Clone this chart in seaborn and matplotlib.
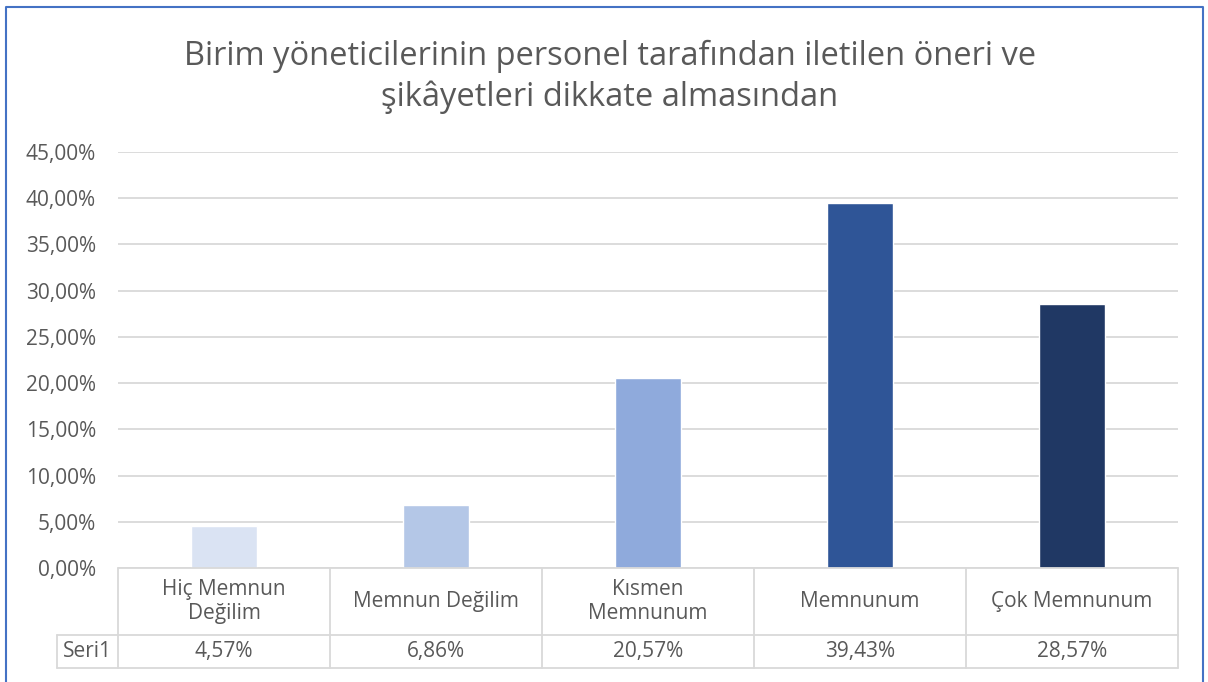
import matplotlib
matplotlib.use("Agg")
import matplotlib.pyplot as plt
import seaborn as sns
import pandas as pd
from matplotlib.lines import Line2D

categories = ["Hiç Memnun\nDeğilim", "Memnun Değilim", "Kısmen\nMemnunum", "Memnunum", "Çok Memnunum"]
values = [4.57, 6.86, 20.57, 39.43, 28.57]
value_labels = ["4,57%", "6,86%", "20,57%", "39,43%", "28,57%"]
series_name = "Seri1"
yticks = [0, 5, 10, 15, 20, 25, 30, 35, 40, 45]
colors = ["#DAE3F3", "#B4C7E7", "#8FAADC", "#2F5597", "#203864"]
title = "Birim yöneticilerinin personel tarafından iletilen öneri ve\nşikâyetleri dikkate almasından"

sns.set_theme(style="white")
plt.rcParams["font.family"] = ["Open Sans", "DejaVu Sans"]
text_color = "#595959"
grid_color = "#D9D9D9"
fs = 15

W, H = 1208, 682
fig = plt.figure(figsize=(W / 100, H / 100), dpi=100)

def fx(px):
    return px / W

def fy(py):
    return 1 - py / H

ax_left, ax_right, ax_top, ax_bottom = 118, 1178, 152, 568
ax = fig.add_axes([fx(ax_left), fy(ax_bottom), fx(ax_right - ax_left), (ax_bottom - ax_top) / H])

df = pd.DataFrame({"cat": categories, "val": values})
sns.barplot(data=df, x="cat", y="val", hue="cat", palette=colors, width=0.31,
            legend=False, ax=ax, saturation=1, order=categories)
ax.set_ylim(0, 45)
ax.set_xlim(-0.5, len(categories) - 0.5)
ax.set_yticks(yticks)
ax.set_yticklabels([f"{t:.2f}".replace(".", ",") + "%" for t in yticks], color=text_color, fontsize=fs)
ax.set_xticks([])
ax.set_xlabel("")
ax.set_ylabel("")
ax.tick_params(axis="y", length=0, pad=15.8)
for s in ax.spines.values():
    s.set_visible(False)
ax.yaxis.grid(True, color=grid_color, linewidth=1.3)
ax.set_axisbelow(True)

# Title
fig.text(0.5 + 0.005, fy(77), title, ha="center", va="center", fontsize=23.5, color=text_color,
         linespacing=1.3)

# Data table
col_w = (ax_right - ax_left) / len(categories)
row1_top, row1_bot, row2_bot = 568, 635, 668
label_left = 57
lc = grid_color
lw = 1.3
def hline(x0, x1, y):
    fig.add_artist(Line2D([fx(x0), fx(x1)], [fy(y), fy(y)], color=lc, lw=lw))
def vline(x, y0, y1):
    fig.add_artist(Line2D([fx(x), fx(x)], [fy(y0), fy(y1)], color=lc, lw=lw))

hline(ax_left, ax_right, row1_top)
hline(label_left, ax_right, row1_bot)
hline(label_left, ax_right, row2_bot)
vline(label_left, row1_bot, row2_bot)
for i in range(len(categories) + 1):
    vline(ax_left + i * col_w, row1_top, row2_bot)
for i, (c, v) in enumerate(zip(categories, value_labels)):
    cx = ax_left + (i + 0.5) * col_w
    fig.text(fx(cx), fy((row1_top + row1_bot) / 2), c, ha="center", va="center",
             fontsize=fs, color=text_color, linespacing=1.15)
    fig.text(fx(cx), fy((row1_bot + row2_bot) / 2), v, ha="center", va="center",
             fontsize=fs, color=text_color)
fig.text(fx((label_left + ax_left) / 2), fy((row1_bot + row2_bot) / 2), series_name,
         ha="center", va="center", fontsize=fs, color=text_color)

# Outer border (left, top, right)
bc = "#4472C4"
fig.add_artist(Line2D([fx(6), fx(6), fx(1203), fx(1203)], [0, fy(7), fy(7), 0], color=bc, lw=1.5))

fig.savefig("out.png", dpi=100, facecolor="white")
